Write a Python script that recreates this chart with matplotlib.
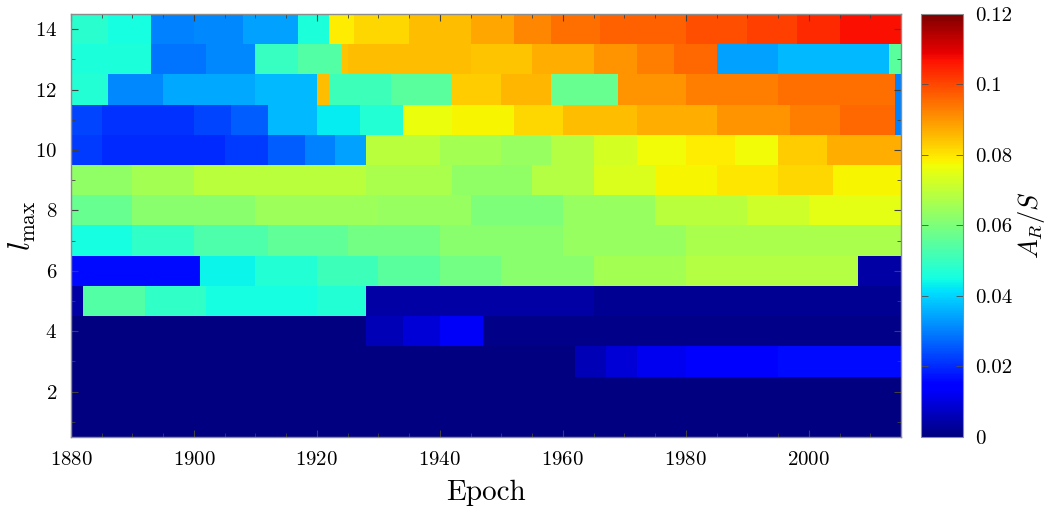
import numpy as np
import matplotlib
matplotlib.use("Agg")
import matplotlib.pyplot as plt
from matplotlib.ticker import MultipleLocator

plt.rcParams['font.family'] = 'serif'
plt.rcParams['font.serif'] = ['cmr10', 'DejaVu Serif']
plt.rcParams['mathtext.fontset'] = 'cm'
plt.rcParams['axes.formatter.use_mathtext'] = True

# degree index of each row
l_max = [14, 13, 12, 11, 10, 9, 8, 7, 6, 5, 4, 3, 2, 1]

# per-row epoch boundaries (years) of each constant block
row_edges = [
    [1880, 1886, 1893, 1900, 1908, 1917, 1922, 1926, 1935, 1945, 1952, 1958, 1966, 1980, 1990, 1998, 2005, 2015],
    [1880, 1893, 1902, 1910, 1917, 1924, 1925, 1945, 1955, 1965, 1972, 1978, 1985, 1995, 2013, 2015],
    [1880, 1886, 1895, 1910, 1920, 1922, 1932, 1942, 1950, 1958, 1969, 1980, 1995, 2014, 2015],
    [1880, 1885, 1900, 1906, 1912, 1920, 1927, 1934, 1942, 1952, 1960, 1972, 1985, 1997, 2005, 2014, 2015],
    [1880, 1885, 1905, 1912, 1918, 1923, 1928, 1940, 1950, 1958, 1965, 1972, 1980, 1988, 1995, 2003, 2015],
    [1880, 1890, 1900, 1928, 1942, 1955, 1965, 1975, 1985, 1995, 2004, 2015],
    [1880, 1890, 1910, 1930, 1945, 1960, 1975, 1990, 2000, 2015],
    [1880, 1890, 1900, 1912, 1925, 1940, 1960, 1980, 2015],
    [1880, 1901, 1910, 1920, 1930, 1940, 1950, 1965, 1980, 2008, 2015],
    [1880, 1882, 1892, 1902, 1920, 1928, 1965, 2015],
    [1880, 1928, 1934, 1940, 1947, 2015],
    [1880, 1962, 1967, 1972, 1980, 1995, 2015],
    [1880, 2015],
    [1880, 2015],
]

# A_R/S in each block
row_values = [
    [0.048, 0.045, 0.030, 0.031, 0.034, 0.046, 0.079, 0.082, 0.085, 0.088, 0.092, 0.095, 0.097, 0.099, 0.101, 0.104, 0.107],
    [0.046, 0.029, 0.031, 0.050, 0.054, 0.084, 0.085, 0.084, 0.087, 0.090, 0.093, 0.096, 0.034, 0.037, 0.055],
    [0.047, 0.031, 0.035, 0.037, 0.085, 0.051, 0.055, 0.083, 0.086, 0.057, 0.090, 0.093, 0.095, 0.030],
    [0.023, 0.021, 0.023, 0.026, 0.037, 0.043, 0.047, 0.076, 0.078, 0.082, 0.085, 0.087, 0.090, 0.093, 0.096, 0.030],
    [0.022, 0.020, 0.022, 0.026, 0.030, 0.034, 0.069, 0.066, 0.064, 0.068, 0.073, 0.077, 0.079, 0.077, 0.083, 0.087],
    [0.063, 0.066, 0.069, 0.067, 0.063, 0.068, 0.074, 0.078, 0.080, 0.082, 0.078],
    [0.057, 0.062, 0.065, 0.064, 0.060, 0.064, 0.069, 0.072, 0.075],
    [0.045, 0.049, 0.053, 0.056, 0.059, 0.062, 0.064, 0.067],
    [0.016, 0.044, 0.047, 0.051, 0.055, 0.059, 0.062, 0.066, 0.068, 0.004],
    [0.004, 0.054, 0.049, 0.045, 0.047, 0.004, 0.002],
    [0.000, 0.006, 0.009, 0.013, 0.001],
    [0.000, 0.006, 0.009, 0.012, 0.014, 0.016],
    [0.000],
    [0.000],
]

vmin, vmax = 0.0, 0.12
cbar_ticks = [0, 0.02, 0.04, 0.06, 0.08, 0.1, 0.12]
cbar_labels = ['0', '0.02', '0.04', '0.06', '0.08', '0.1', '0.12']

fig = plt.figure(figsize=(10.47, 5.16), dpi=100)
ax = fig.add_axes([0.0678, 0.1531, 0.7928, 0.8198])
cax = fig.add_axes([0.8797, 0.1531, 0.0401, 0.8198])

for l, edges, vals in zip(l_max, row_edges, row_values):
    mesh = ax.pcolormesh(edges, [l - 0.5, l + 0.5], [vals], cmap='jet',
                         vmin=vmin, vmax=vmax, shading='flat',
                         edgecolors='none', antialiased=False)

ax.set_xlim(1880, 2015)
ax.set_ylim(0.5, 14.5)
ax.xaxis.set_major_locator(MultipleLocator(20))
ax.xaxis.set_minor_locator(MultipleLocator(5))
ax.yaxis.set_major_locator(MultipleLocator(2))
ax.yaxis.set_minor_locator(MultipleLocator(1))
ax.tick_params(which='both', direction='in', top=True, right=True,
               color='0.25', labelsize=15)
ax.tick_params(which='major', length=5, width=0.8, pad=10)
ax.tick_params(which='minor', length=3, width=0.6)
for sp in ax.spines.values():
    sp.set_color('0.55')
    sp.set_linewidth(1.0)

ax.set_xlabel('Epoch', fontsize=21, labelpad=8)
ax.set_ylabel(r'$l_{\mathrm{max}}$', fontsize=22, labelpad=-2)

cb = fig.colorbar(mesh, cax=cax, ticks=cbar_ticks)
cb.ax.set_yticklabels(cbar_labels)
cb.ax.tick_params(direction='in', length=5, width=0.6, color='0.3',
                  labelsize=15, pad=9, left=True, right=True)
cb.outline.set_edgecolor('0.55')
cb.set_label(r'$A_R/S$', fontsize=19, labelpad=2)

fig.savefig('out.png', dpi=100)
